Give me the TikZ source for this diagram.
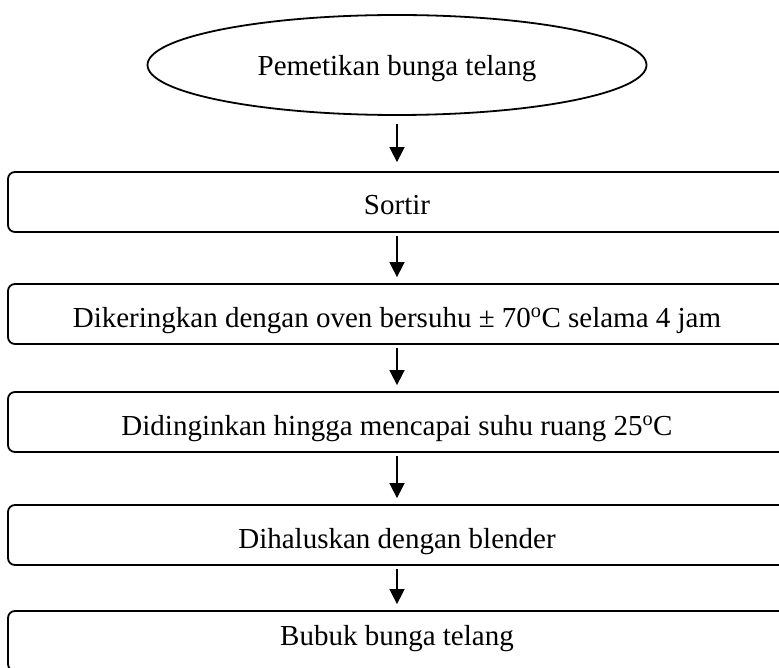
\documentclass[tikz,border=0pt]{standalone}
\usepackage{fontspec}
\setmainfont{Liberation Serif}
\usetikzlibrary{arrows.meta, positioning, shapes.geometric}

\begin{document}
\begin{tikzpicture}[x=1pt, y=-1pt,
  every node/.style={font=\fontsize{29}{34}\selectfont, text height=28pt, text depth=2pt},
  startnode/.style={draw, ellipse, line width=1.8pt, minimum width=499pt, minimum height=100pt, inner sep=0pt, text height=24pt},
  stepbox/.style={draw, rounded corners=7pt, line width=1.8pt, minimum width=778pt, minimum height=60pt, inner sep=0pt},
  flow/.style={line width=1.6pt, -{Triangle[length=15pt, width=15pt]}, shorten <=3pt, shorten >=6pt}]
  % Canvas
  \useasboundingbox (0,0) rectangle (779,668);
  \clip (0,0) rectangle (779,668);

  % Start
  \node[startnode] (petik) at (397,65) {Pemetikan bunga telang};

  % Process steps
  \node[stepbox] (sortir) at (397,202) {Sortir};
  \node[stepbox] (oven) at (397,314) {Dikeringkan dengan oven bersuhu ± 70\textsuperscript{o}C selama 4 jam};
  \node[stepbox] (dingin) at (397,422) {Didinginkan hingga mencapai suhu ruang 25\textsuperscript{o}C};
  \node[stepbox] (halus) at (397,535) {Dihaluskan dengan blender};
  \node[stepbox, text height=22pt, text depth=14pt] (bubuk) at (397,641) {Bubuk bunga telang};

  % Arrows
  \draw[flow, shorten <=8pt, shorten >=9pt] (petik) -- (sortir);
  \draw[flow] (sortir) -- (oven);
  \draw[flow] (oven) -- (dingin);
  \draw[flow] (dingin) -- (halus);
  \draw[flow] (halus) -- (bubuk);
\end{tikzpicture}
\end{document}
